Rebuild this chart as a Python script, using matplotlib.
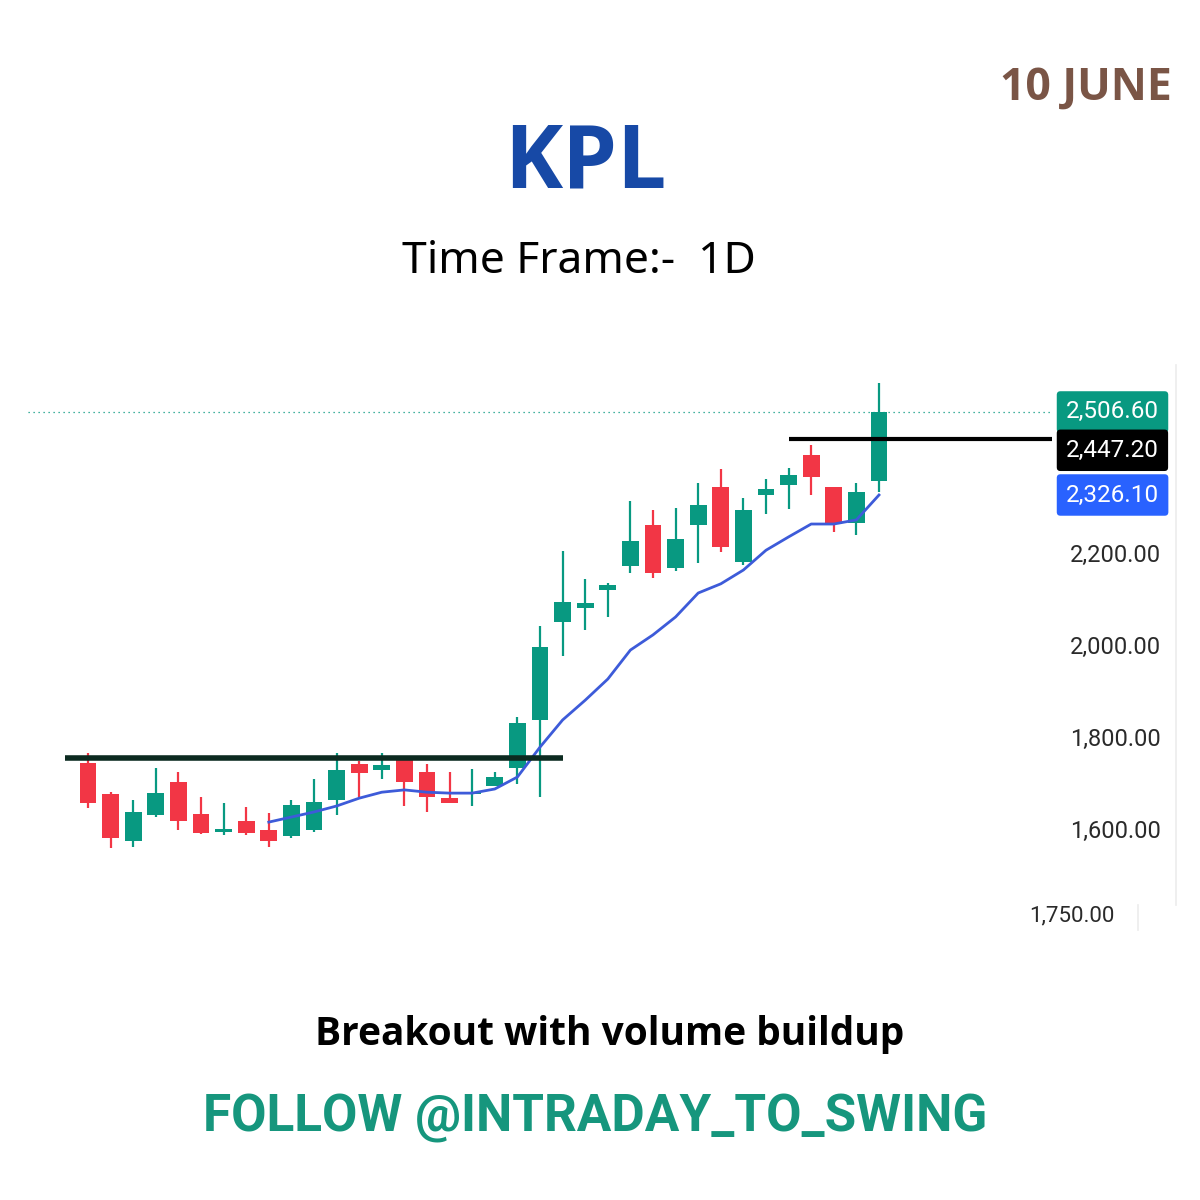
import matplotlib
matplotlib.use("Agg")
import matplotlib.pyplot as plt
import matplotlib.transforms as mtransforms
from matplotlib.lines import Line2D
from matplotlib.ticker import FuncFormatter, FixedLocator

# daily candles (open, high, low, close)
opens = [1744, 1676, 1574, 1630, 1702, 1633, 1594, 1617, 1598, 1585,
         1598, 1663, 1741, 1728, 1750, 1724, 1667, 1676, 1693, 1733,
         1837, 2050, 2080, 2120, 2172, 2261, 2167, 2261, 2344, 2180,
         2326, 2348, 2413, 2344, 2265, 2357]
highs = [1765, 1680, 1663, 1733, 1724, 1670, 1657, 1648, 1635, 1663,
         1709, 1765, 1748, 1765, 1750, 1741, 1724, 1730, 1724, 1843,
         2041, 2204, 2143, 2135, 2313, 2294, 2298, 2352, 2383, 2320,
         2361, 2385, 2435, 2344, 2352, 2570]
lows = [1646, 1559, 1561, 1626, 1598, 1589, 1587, 1587, 1561, 1580,
        1594, 1630, 1670, 1709, 1650, 1637, 1657, 1650, 1693, 1698,
        1670, 1976, 2033, 2061, 2157, 2146, 2161, 2178, 2202, 2174,
        2285, 2296, 2326, 2246, 2239, 2333]
closes = [1657, 1580, 1637, 1678, 1617, 1591, 1600, 1591, 1574, 1652,
          1659, 1728, 1722, 1739, 1702, 1670, 1657, 1680, 1713, 1830,
          1996, 2093, 2091, 2130, 2226, 2157, 2230, 2304, 2213, 2294,
          2339, 2370, 2365, 2263, 2333, 2506.6]

# moving average, starts at the 9th candle
ma_start = 8
ma = [1615, 1626, 1637, 1650, 1667, 1680, 1685, 1680, 1678, 1678,
      1687, 1713, 1778, 1837, 1880, 1926, 1989, 2022, 2061, 2113,
      2133, 2163, 2206, 2235, 2263, 2263, 2272, 2326.1]

ticks = [1600, 1800, 2000, 2200]
resistance_old = 1754
resistance_new = 2447.2
last_close = 2506.6
last_ma = 2326.1

GREEN = "#089981"
RED = "#F23645"

fig = plt.figure(figsize=(12, 12), dpi=100)
fig.patch.set_facecolor("white")

W, H = 1200, 1200
ax = fig.add_axes([28 / W, 1 - 905 / H, (1052 - 28) / W, (905 - 360) / H])
ax.set_facecolor("white")

n = len(opens)
idx = list(range(n))
for i in idx:
    o, h, l, c = opens[i], highs[i], lows[i], closes[i]
    col = GREEN if c >= o else RED
    ax.vlines(i, l, h, color=col, lw=1.6, zorder=2)
    body = max(abs(c - o), 4)
    ax.bar(i, body, bottom=min(o, c), width=0.74, color=col, zorder=3)

ax.plot(idx[ma_start:], ma, color="#3d5bd9", lw=2, zorder=4)

ax.hlines(resistance_old, -1, 21, color="#0c2a20", lw=4, zorder=5)
ax.hlines(resistance_new, 31, 43, color="black", lw=3, zorder=5)
ax.axhline(last_close, color=GREEN, ls=(0, (1, 3)), lw=0.9, zorder=1)

ax.set_xlim((28 - 88) / 22.6, (1052 - 88) / 22.6)
ax.set_ylim(2200 - (905 - 553) * 200 / 92, 2200 + (553 - 360) * 200 / 92)

for s in ax.spines.values():
    s.set_visible(False)
ax.set_xticks([])
ax.yaxis.tick_right()
ax.yaxis.set_major_locator(FixedLocator(ticks))
ax.yaxis.set_major_formatter(FuncFormatter(lambda v, p: f"{v:,.2f}"))
ax.tick_params(axis="y", length=0, pad=13, labelsize=17, labelcolor="#2a2a2a")
for t in ax.get_yticklabels():
    t.set_fontfamily("Roboto")

# price labels on the right edge
tr = mtransforms.blended_transform_factory(ax.transAxes, ax.transData)
shift = mtransforms.ScaledTranslation(0, -11 / 100, fig.dpi_scale_trans)
labels = [(last_close, GREEN, tr), (resistance_new, "black", tr + shift),
          (last_ma, "#2962FF", tr)]
for val, col, t in labels:
    ax.text(1.0 + 14 / 1024, val, f"{val:,.2f}", transform=t, ha="left",
            va="center", color="white", fontsize=17.5, family="Roboto",
            bbox=dict(boxstyle="round,pad=0.38,rounding_size=0.15",
                      fc=col, ec="none"), clip_on=False, zorder=6)

fig.add_artist(Line2D([1176 / W, 1176 / W], [1 - 365 / H, 1 - 905 / H],
                      color="#ececec", lw=1.2))
fig.add_artist(Line2D([1138 / W, 1138 / W], [1 - 905 / H, 1 - 930 / H],
                      color="#ececec", lw=1.2))
fig.text(1029 / W, 1 - 916 / H, "1,750.00", ha="left", va="center",
         fontsize=16, color="#2a2a2a", family="Roboto")

# texts
fig.text(585 / W, 1 - 165 / H, "KPL", ha="center", va="center",
         fontsize=63, fontweight="bold", color="#1749a6", family="Open Sans")
fig.text(579 / W, 1 - 262 / H, "Time Frame:-  1D", ha="center", va="center",
         fontsize=32, color="black", family="Noto Sans")
fig.text(1172 / W, 1 - 88 / H, "10 JUNE", ha="right", va="center",
         fontsize=32, fontweight="bold", color="#7a5546", family="Open Sans")
fig.text(610 / W, 1 - 1035 / H, "Breakout with volume buildup", ha="center",
         va="center", fontsize=28, fontweight="bold", color="black",
         family="Open Sans")
fig.text(595 / W, 1 - 1118 / H, "FOLLOW @INTRADAY_TO_SWING", ha="center",
         va="center", fontsize=37, fontweight="bold", color="#16967d",
         family="Roboto")

fig.savefig("out.png", dpi=100)
